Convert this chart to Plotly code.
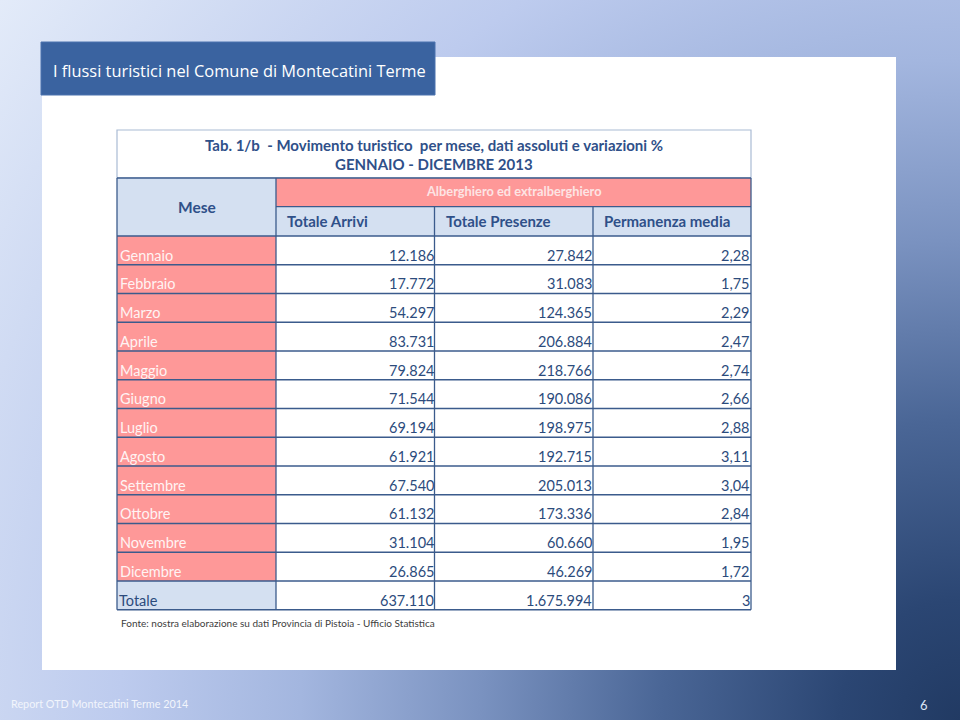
import base64
import plotly.graph_objects as go

# ---------------- data ----------------
mesi = ["Gennaio", "Febbraio", "Marzo", "Aprile", "Maggio", "Giugno", "Luglio",
        "Agosto", "Settembre", "Ottobre", "Novembre", "Dicembre"]
arrivi = [12186, 17772, 54297, 83731, 79824, 71544, 69194, 61921, 67540, 61132, 31104, 26865]
presenze = [27842, 31083, 124365, 206884, 218766, 190086, 198975, 192715, 205013, 173336, 60660, 46269]
permanenza = [2.28, 1.75, 2.29, 2.47, 2.74, 2.66, 2.88, 3.11, 3.04, 2.84, 1.95, 1.72]
totale_label = "Totale"
totale_arrivi = 637110
totale_presenze = 1675994
totale_permanenza = "3"
col_headers = ["Totale Arrivi", "Totale Presenze", "Permanenza media"]
group_header = "Alberghiero ed extralberghiero"
first_header = "Mese"
table_title = ["Tab. 1/b  - Movimento turistico  per mese, dati assoluti e variazioni %",
               "GENNAIO - DICEMBRE 2013"]
slide_title = "I flussi turistici nel Comune di Montecatini Terme"
source_note = "Fonte: nostra elaborazione su dati Provincia di Pistoia - Ufficio Statistica"
footer_left = "Report OTD Montecatini Terme 2014"
footer_page = "6"


def fmt_int(v):
    return f"{v:,}".replace(",", ".")


def fmt_dec(v):
    return f"{v:.2f}".replace(".", ",")


# ---------------- style / geometry ----------------
FONT = "Lato"
PINK = "#fe9898"
LBLUE = "#d4e0f1"
DARK = "#3b5b8c"
TXT = "#2c4b7c"

col_x = [117, 276, 434.5, 593, 751]
title_top, head_top, sub_top, data_top = 130, 178, 206.7, 236
row_h = 28.75

shapes = []
ann = []


def rect(x0, y0, x1, y1, fill, line=None, width=0, layer="above"):
    shapes.append(dict(type="rect", xref="x", yref="y", x0=x0, y0=y0, x1=x1, y1=y1,
                       fillcolor=fill, line=dict(color=line or fill, width=width), layer=layer))


def hline(x0, x1, y, color=DARK, width=1.3):
    shapes.append(dict(type="line", xref="x", yref="y", x0=x0, x1=x1, y0=y, y1=y,
                       line=dict(color=color, width=width)))


def vline(x, y0, y1, color=DARK, width=1.3):
    shapes.append(dict(type="line", xref="x", yref="y", x0=x, x1=x, y0=y0, y1=y1,
                       line=dict(color=color, width=width)))


def text(x, y, s, size, color, anchor="left", bold=False, family=FONT):
    ann.append(dict(x=x, y=y, xref="x", yref="y", text=f"<b>{s}</b>" if bold else s,
                    showarrow=False, xanchor=anchor, yanchor="middle",
                    font=dict(family=family, size=size, color=color)))


# white panel
rect(42, 57, 896, 670, "#ffffff")
# slide title box
rect(41, 42, 435, 95, "#3a63a0", line="#4a73ae", width=1)
text(51, 70, slide_title, 16.4, "#ffffff", family="Open Sans")

# table title cell
rect(col_x[0], title_top, col_x[-1], head_top, "#ffffff", line="#aabbd4", width=1.2)
text((col_x[0] + col_x[-1]) / 2, 145, table_title[0], 15, "#2f5089", anchor="center", bold=True)
text((col_x[0] + col_x[-1]) / 2, 164, table_title[1], 15, "#2f5089", anchor="center", bold=True)

# header cells
rect(col_x[0], head_top, col_x[1], data_top, LBLUE)
rect(col_x[1], head_top, col_x[-1], sub_top, PINK)
rect(col_x[1], sub_top, col_x[-1], data_top, LBLUE)
text((col_x[0] + col_x[1]) / 2, 207, first_header, 15.5, "#2f5089", anchor="center", bold=True)
text((col_x[1] + col_x[-1]) / 2, 191, group_header, 12.8, "#fde4e4", anchor="center", bold=True)
for i, h in enumerate(col_headers):
    text(col_x[i + 1] + 9, 221, h, 15, "#2f5089", bold=True)

# data rows
n = len(mesi)
for i in range(n):
    y0 = data_top + i * row_h
    rect(col_x[0], y0, col_x[1], y0 + row_h, PINK)
    ty = y0 + 19
    text(col_x[0] + 1, ty, mesi[i], 14.5, "#fff3f3")
    text(col_x[2] + 1, ty, fmt_int(arrivi[i]), 14.5, TXT, anchor="right")
    text(col_x[3] + 1, ty, fmt_int(presenze[i]), 14.5, TXT, anchor="right")
    text(col_x[4] + 1, ty, fmt_dec(permanenza[i]), 14.5, TXT, anchor="right")

# total row
yt = data_top + n * row_h
rect(col_x[0], yt, col_x[1], yt + row_h, LBLUE)
text(col_x[0] + 0, yt + 19, totale_label, 14.5, TXT)
text(col_x[2] + 1, yt + 19, fmt_int(totale_arrivi), 14.5, TXT, anchor="right")
text(col_x[3] + 1, yt + 19, fmt_int(totale_presenze), 14.5, TXT, anchor="right")
text(col_x[4] + 1, yt + 19, totale_permanenza, 14.5, TXT, anchor="right")

# grid lines
bottom = yt + row_h
for k in range(n + 2):
    hline(col_x[0], col_x[-1], data_top + k * row_h)
hline(col_x[0], col_x[-1], head_top)
hline(col_x[1], col_x[-1], sub_top)
vline(col_x[0], head_top, bottom)
vline(col_x[1], head_top, bottom)
vline(col_x[2], sub_top, bottom)
vline(col_x[3], sub_top, bottom)
vline(col_x[4], head_top, bottom)

# source note and footer
text(119, 623, source_note, 10, "#404040")
text(9, 703, footer_left, 10.8, "#f2f5fc")
text(918, 705, footer_page, 13, "#dbe5f6")

# background gradient
svg = """<svg xmlns="http://www.w3.org/2000/svg" width="960" height="720" viewBox="0 0 960 720" preserveAspectRatio="none">
<defs><radialGradient id="g" cx="960" cy="720" r="1200" gradientUnits="userSpaceOnUse">
<stop offset="0" stop-color="#213a63"/>
<stop offset="0.1" stop-color="#2b4673"/>
<stop offset="0.25" stop-color="#4a6696"/>
<stop offset="0.4" stop-color="#7a92c0"/>
<stop offset="0.55" stop-color="#a3b6df"/>
<stop offset="0.7" stop-color="#bdcbee"/>
<stop offset="0.85" stop-color="#d0dbf3"/>
<stop offset="1" stop-color="#e3ebf9"/>
</radialGradient></defs>
<rect x="0" y="0" width="960" height="720" fill="url(#g)"/></svg>"""
bg = "data:image/svg+xml;base64," + base64.b64encode(svg.encode()).decode()

fig = go.Figure()
fig.update_layout(
    width=960, height=720, autosize=False,
    margin=dict(l=0, r=0, t=0, b=0),
    paper_bgcolor="#ffffff", plot_bgcolor="rgba(0,0,0,0)",
    xaxis=dict(range=[0, 960], visible=False, fixedrange=True),
    yaxis=dict(range=[720, 0], visible=False, fixedrange=True),
    images=[dict(source=bg, xref="paper", yref="paper", x=0, y=1, sizex=1, sizey=1,
                 xanchor="left", yanchor="top", sizing="stretch", layer="below")],
    shapes=shapes, annotations=ann, showlegend=False,
)
fig.write_html("out.html", config={"displayModeBar": False},
               post_script="document.body.style.margin='0';document.body.style.overflow='hidden';")
